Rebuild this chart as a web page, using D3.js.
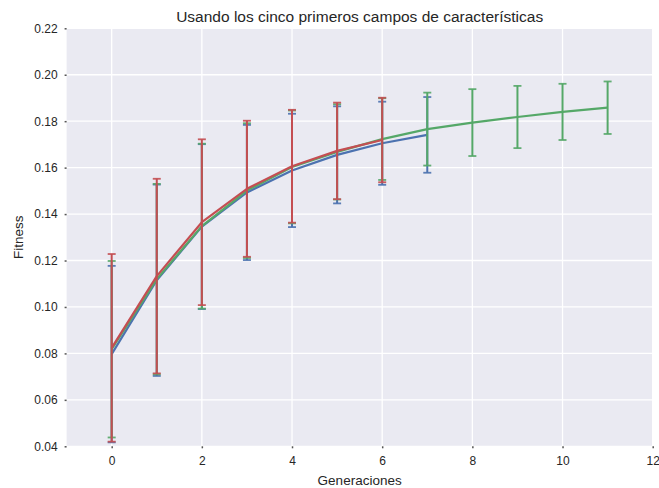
<!DOCTYPE html>
<html>
<head>
<meta charset="utf-8">
<script src="https://cdn.jsdelivr.net/npm/d3@7"></script>
<style>
  body { margin: 0; background: #fff; }
  svg { font-family: "Liberation Sans", Arial, sans-serif; }
</style>
</head>
<body>
<svg id="chart"></svg>
<script>
// generations
var gensA = [0, 1, 2, 3, 4, 5, 6, 7];
var gensB = [0, 1, 2, 3, 4, 5, 6, 7, 8, 9, 10, 11];
var gensC = [0, 1, 2, 3, 4, 5, 6];

// mean fitness + std for each run
var blueMean = [0.0797, 0.1115, 0.1346, 0.1493, 0.1588, 0.1655, 0.1705, 0.1741];
var blueErr  = [0.0380, 0.0412, 0.0355, 0.0291, 0.0244, 0.0209, 0.0179, 0.0163];
var greenMean = [0.0818, 0.1120, 0.1348, 0.1501, 0.1603, 0.1668, 0.1723, 0.1766, 0.1794, 0.1818, 0.1840, 0.1858];
var greenErr  = [0.0380, 0.0410, 0.0355, 0.0290, 0.0243, 0.0205, 0.0176, 0.0157, 0.0144, 0.0134, 0.0121, 0.0113];
var redMean = [0.0824, 0.1133, 0.1365, 0.1509, 0.1606, 0.1672, 0.1719];
var redErr  = [0.0404, 0.0419, 0.0357, 0.0293, 0.0243, 0.0208, 0.0182];

var xTicks = [0, 2, 4, 6, 8, 10, 12];
var yTicks = [0.04, 0.06, 0.08, 0.10, 0.12, 0.14, 0.16, 0.18, 0.20, 0.22];

var W = 659, H = 488;
var pL = 66.6, pR = 652.7, pT = 28.3, pB = 446.3;

var svg = d3.select("#chart").attr("width", W).attr("height", H);

var x = d3.scaleLinear().domain([-1, 12]).range([pL, pR]);
var y = d3.scaleLinear().domain([0.04, 0.22]).range([pB, pT]);

// background
svg.append("rect")
  .attr("x", pL).attr("y", pT)
  .attr("width", pR - pL).attr("height", pB - pT)
  .attr("fill", "#eaeaf2");

// grid
svg.append("g").selectAll("line").data(xTicks).enter().append("line")
  .attr("x1", d => x(d)).attr("x2", d => x(d))
  .attr("y1", pT).attr("y2", pB)
  .attr("stroke", "#fff").attr("stroke-width", 1.3);
svg.append("g").selectAll("line").data(yTicks).enter().append("line")
  .attr("x1", pL).attr("x2", pR)
  .attr("y1", d => y(d)).attr("y2", d => y(d))
  .attr("stroke", "#fff").attr("stroke-width", 1.3);

// axes
var xAxis = svg.append("g")
  .attr("transform", "translate(0," + pB + ")")
  .call(d3.axisBottom(x).tickValues(xTicks).tickSize(2).tickPadding(8).tickFormat(d3.format("d")));
var yAxis = svg.append("g")
  .attr("transform", "translate(" + pL + ",0)")
  .call(d3.axisLeft(y).tickValues(yTicks).tickSize(2).tickPadding(7).tickFormat(d3.format(".2f")));
[xAxis, yAxis].forEach(function(g) {
  g.select(".domain").remove();
  g.selectAll(".tick line").attr("stroke", "#555").attr("stroke-width", 1.5);
  g.selectAll(".tick text").attr("fill", "#262626").style("font-size", "12px")
    .style("font-family", "Liberation Sans, Arial, sans-serif");
});

var series = [
  {gens: gensA, mean: blueMean, err: blueErr, color: "#4c72b0"},
  {gens: gensB, mean: greenMean, err: greenErr, color: "#55a868"},
  {gens: gensC, mean: redMean, err: redErr, color: "#c44e52"}
];

var line = d3.line().x(d => x(d[0])).y(d => y(d[1]));

series.forEach(function(s) {
  var pts = s.gens.map((g, i) => [g, s.mean[i], s.err[i]]);
  var g = svg.append("g");
  g.selectAll(".bar").data(pts).enter().append("line")
    .attr("x1", d => x(d[0])).attr("x2", d => x(d[0]))
    .attr("y1", d => y(d[1] - d[2])).attr("y2", d => y(d[1] + d[2]))
    .attr("stroke", s.color).attr("stroke-width", 2);
  [-1, 1].forEach(function(sign) {
    g.selectAll(".cap" + sign).data(pts).enter().append("line")
      .attr("x1", d => x(d[0]) - 4).attr("x2", d => x(d[0]) + 4)
      .attr("y1", d => y(d[1] + sign * d[2])).attr("y2", d => y(d[1] + sign * d[2]))
      .attr("stroke", s.color).attr("stroke-width", 1.8).attr("opacity", 0.9);
  });
  g.append("path").datum(pts)
    .attr("d", line)
    .attr("fill", "none").attr("stroke", s.color).attr("stroke-width", 2.2)
    .attr("stroke-linejoin", "round");
});

// titles
svg.append("text")
  .attr("x", (pL + pR) / 2).attr("y", 22)
  .attr("text-anchor", "middle")
  .attr("fill", "#262626").style("font-size", "15.5px")
  .text("Usando los cinco primeros campos de características");

svg.append("text")
  .attr("x", (pL + pR) / 2).attr("y", 485)
  .attr("text-anchor", "middle")
  .attr("fill", "#262626").style("font-size", "13.5px")
  .text("Generaciones");

svg.append("text")
  .attr("transform", "translate(23," + ((pT + pB) / 2) + ") rotate(-90)")
  .attr("text-anchor", "middle")
  .attr("fill", "#262626").style("font-size", "13.5px")
  .text("Fitness");
</script>
</body>
</html>
